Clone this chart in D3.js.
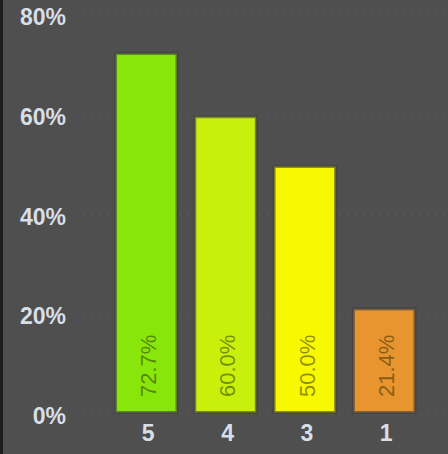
<!DOCTYPE html>
<html><head><meta charset="utf-8">
<script src="https://cdn.jsdelivr.net/npm/d3@7"></script>
<style>html,body{margin:0;padding:0;background:#4f4f4f;}svg{display:block;}</style>
</head><body>
<script>
const categories = ["5", "4", "3", "1"];
const values = [72.7, 60.0, 50.0, 21.4];
const colors = ["#88e60a", "#c8f00a", "#f8f800", "#e8942f"];
const yTicks = [0, 20, 40, 60, 80];

const W = 448, H = 454;
const svg = d3.select("body").append("svg").attr("width", W).attr("height", H);
svg.append("rect").attr("width", W).attr("height", H).attr("fill", "#4f4f4f");
svg.append("rect").attr("x", 0).attr("y", 0).attr("width", 3).attr("height", H).attr("fill", "#1e1e1e");

const x = d3.scaleBand().domain(categories).range([106.6, 423.8]).paddingInner(0.187).paddingOuter(0.0935);
const y = d3.scaleLinear().domain([0, 100]).range([414, 414 - 498]);

// gridlines
svg.append("g").selectAll("line").data(yTicks).join("line")
  .attr("x1", 83).attr("x2", W).attr("y1", d => y(d)).attr("y2", d => y(d))
  .attr("stroke", "#585858").attr("stroke-width", 1.5).attr("stroke-dasharray", "2,6");

// y axis
const yAxis = d3.axisLeft(y).tickValues(yTicks).tickFormat(d => d + "%").tickSize(0).tickPadding(0);
const gy = svg.append("g").attr("transform", "translate(66,2)").call(yAxis);
gy.select(".domain").remove();
gy.selectAll("text").attr("fill", "#d8dee6").attr("font-family", "Liberation Sans, Arial, sans-serif").attr("font-size", 23).attr("font-weight", "bold");

// x axis
const xAxis = d3.axisBottom(x).tickSize(0).tickPadding(0);
const gx = svg.append("g").attr("transform", "translate(2,427)").call(xAxis);
gx.select(".domain").remove();
gx.selectAll("text").attr("fill", "#d8dee6").attr("font-family", "Liberation Sans, Arial, sans-serif").attr("font-size", 23).attr("font-weight", "bold").attr("dy", "0.6em");

// bars
const sw = 3;
svg.append("g").selectAll("rect").data(values).join("rect")
  .attr("x", (d, i) => x(categories[i]) + sw / 2)
  .attr("y", d => y(d) + sw / 2)
  .attr("width", x.bandwidth() - sw)
  .attr("height", d => y(0) - y(d) - sw)
  .attr("fill", (d, i) => colors[i])
  .attr("stroke", "rgba(64,64,64,0.6)")
  .attr("stroke-width", sw);

// value labels
svg.append("g").selectAll("text").data(values).join("text")
  .attr("transform", (d, i) => `translate(${x(categories[i]) + x.bandwidth() / 2 + 2},397) rotate(-90)`)
  .attr("dy", "0.35em")
  .attr("text-anchor", "start")
  .attr("font-family", "Liberation Sans, Arial, sans-serif")
  .attr("font-size", 22)
  .attr("fill", "rgba(40,40,0,0.5)")
  .text(d => d.toFixed(1) + "%");
</script>
</body></html>
